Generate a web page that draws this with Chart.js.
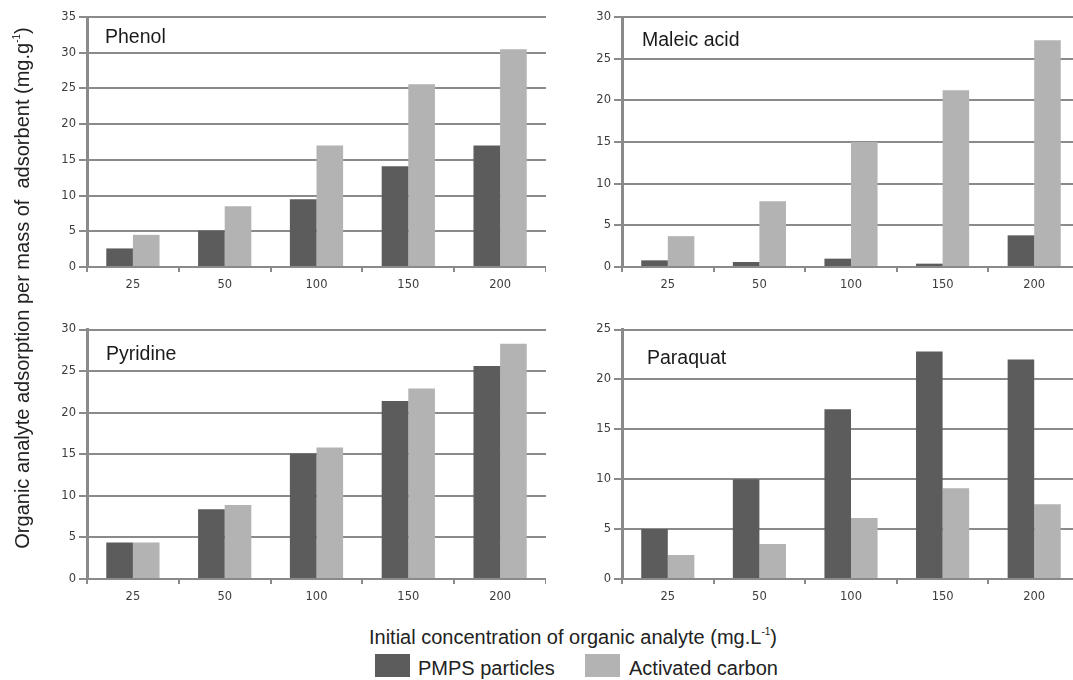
<!DOCTYPE html>
<html>
<head>
<meta charset="utf-8">
<script src="https://cdn.jsdelivr.net/npm/chart.js@4"></script>
<style>
  body { margin: 0; background: #fff; }
  #wrap { position: relative; width: 1073px; height: 680px; overflow: hidden; font-family: "Liberation Sans", Arial, sans-serif; color: #222; }
  canvas { position: absolute; }
  .ptitle { position: absolute; font-size: 19.5px; line-height: 19px; color: #1a1a1a; white-space: nowrap; }
  .axtitle { position: absolute; font-size: 20px; line-height: 22px; color: #222; white-space: nowrap; text-align: center; }
  .axtitle sup { font-size: 10px; vertical-align: 9px; line-height: 0; }
  .swatch { position: absolute; width: 35px; height: 23px; }
  .legtext { position: absolute; font-size: 20px; line-height: 22px; color: #222; white-space: nowrap; }
</style>
</head>
<body>
<div id="wrap">
  <canvas id="phenol" width="546" height="300" style="left:0;top:0"></canvas>
  <canvas id="maleic" width="540" height="300" style="left:540px;top:0"></canvas>
  <canvas id="pyridine" width="546" height="320" style="left:0;top:300px"></canvas>
  <canvas id="paraquat" width="540" height="320" style="left:540px;top:300px"></canvas>

  <div class="ptitle" style="left:105px;top:27px">Phenol</div>
  <div class="ptitle" style="left:642px;top:30px">Maleic acid</div>
  <div class="ptitle" style="left:106px;top:344px">Pyridine</div>
  <div class="ptitle" style="left:647px;top:348px">Paraquat</div>

  <div class="axtitle" style="left:-278px;top:277px;width:600px;transform:rotate(-90deg)">Organic analyte adsorption per mass of&nbsp; adsorbent (mg.g<sup>-1</sup>)</div>
  <div class="axtitle" style="left:273px;top:626px;width:600px">Initial concentration of organic analyte (mg.L<sup>-1</sup>)</div>

  <div class="swatch" style="left:375px;top:654px;background:#5c5c5c"></div>
  <div class="legtext" style="left:418px;top:657px">PMPS particles</div>
  <div class="swatch" style="left:585px;top:654px;background:#b3b3b3"></div>
  <div class="legtext" style="left:629px;top:657px">Activated carbon</div>
</div>
<script>
const concentrations = ['25', '50', '100', '150', '200'];

const phenolPmps = [2.6, 5.1, 9.5, 14.1, 17.0];
const phenolCarbon = [4.5, 8.5, 17.0, 25.6, 30.5];
const maleicPmps = [0.8, 0.6, 1.0, 0.4, 3.8];
const maleicCarbon = [3.7, 7.9, 15.0, 21.2, 27.2];
const pyridinePmps = [4.4, 8.4, 15.1, 21.4, 25.6];
const pyridineCarbon = [4.4, 8.9, 15.8, 22.9, 28.3];
const paraquatPmps = [5.0, 10.0, 17.0, 22.8, 22.0];
const paraquatCarbon = [2.4, 3.5, 6.1, 9.1, 7.5];

const pmpsColor = '#5c5c5c';
const carbonColor = '#b3b3b3';
const gridColor = '#8a8a8a';
const tickFont = { family: 'DejaVu Sans', size: 11.5 };

// one panel = one small bar chart, axis sizes fixed so the 4 plots line up
function makePanel(id, pmps, carbon, yMax, yAxisWidth, padTop, xAxisHeight) {
  const ctx = document.getElementById(id).getContext('2d');
  return new Chart(ctx, {
    type: 'bar',
    data: {
      labels: concentrations,
      datasets: [
        { label: 'PMPS particles', data: pmps, backgroundColor: pmpsColor },
        { label: 'Activated carbon', data: carbon, backgroundColor: carbonColor }
      ]
    },
    options: {
      responsive: false,
      animation: false,
      layout: { padding: { top: padTop, right: 0, bottom: 0, left: 0 } },
      datasets: { bar: { categoryPercentage: 0.58, barPercentage: 1.0 } },
      plugins: { legend: { display: false }, tooltip: { enabled: false } },
      scales: {
        x: {
          grid: { drawOnChartArea: false, drawTicks: true, tickLength: 5, color: gridColor, lineWidth: 2 },
          border: { color: gridColor, width: 2 },
          ticks: { font: tickFont, color: '#3c3c3c', padding: 6 },
          afterFit: s => { s.height = xAxisHeight; }
        },
        y: {
          min: 0,
          max: yMax,
          grid: { color: gridColor, lineWidth: 2, tickLength: 8 },
          border: { color: gridColor, width: 3 },
          ticks: { stepSize: 5, font: tickFont, color: '#3c3c3c', padding: 3 },
          afterFit: s => { s.width = yAxisWidth; }
        }
      }
    }
  });
}

makePanel('phenol', phenolPmps, phenolCarbon, 35, 87, 17, 33);
makePanel('maleic', maleicPmps, maleicCarbon, 30, 82, 17, 33);
makePanel('pyridine', pyridinePmps, pyridineCarbon, 30, 87, 29.5, 41);
makePanel('paraquat', paraquatPmps, paraquatCarbon, 25, 82, 29.5, 41);
</script>
</body>
</html>
